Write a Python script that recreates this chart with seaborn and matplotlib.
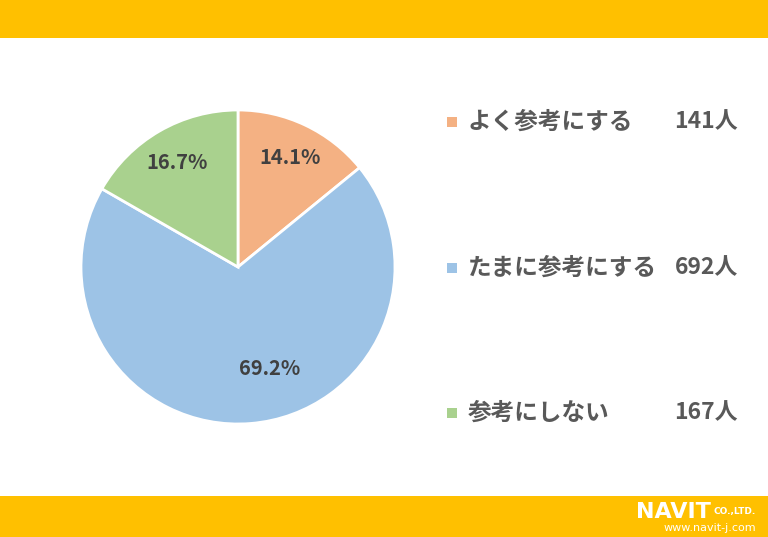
import numpy as np
import matplotlib.pyplot as plt
import seaborn as sns
from matplotlib.patches import Rectangle

# ==========================================
# DATA
# ==========================================

categories = ["よく参考にする", "たまに参考にする", "参考にしない"]
counts = [141, 692, 167]
percent_labels = ["14.1%", "69.2%", "16.7%"]
count_labels = ["141人", "692人", "167人"]

slice_colors = ["#F4B183", "#9DC3E6", "#A9D18E"]
text_gray = "#595959"
label_gray = "#404040"
band_yellow = "#FFC000"

sns.set_theme(style="white")
plt.rcParams["font.family"] = ["Noto Sans CJK JP", "DejaVu Sans"]

W, H = 768, 537
fig = plt.figure(figsize=(W / 100, H / 100), dpi=100)
fig.patch.set_facecolor("white")

# ------------------------------------------
# YELLOW BANDS
# ------------------------------------------

fig.add_artist(Rectangle((0, 1 - 38 / H), 1, 38 / H,
                         transform=fig.transFigure, color=band_yellow, lw=0))
fig.add_artist(Rectangle((0, 0), 1, 41 / H,
                         transform=fig.transFigure, color=band_yellow, lw=0))

# ------------------------------------------
# PIE
# ------------------------------------------

cx, cy, r = 238, 267, 157
ax = fig.add_axes([(cx - r) / W, (H - cy - r) / H, 2 * r / W, 2 * r / H])

wedges, _ = ax.pie(
    counts,
    colors=slice_colors,
    startangle=90,
    counterclock=False,
    radius=1.0,
    wedgeprops=dict(edgecolor="white", linewidth=2),
)
ax.set_xlim(-1, 1)
ax.set_ylim(-1, 1)
ax.set_aspect("auto")
ax.axis("off")

# label placement (nudges like Excel best fit)
label_offsets = [(0.0, 0.0), (0.14, 0.12), (0.0, 0.0)]
for w, txt, off in zip(wedges, percent_labels, label_offsets):
    mid = np.deg2rad((w.theta1 + w.theta2) / 2)
    x = 0.77 * np.cos(mid) + off[0]
    y = 0.77 * np.sin(mid) + off[1]
    ax.text(x, y, txt, ha="center", va="center", fontsize=14.5,
            fontweight="bold", color=label_gray)

# ------------------------------------------
# LEGEND (manual, with counts)
# ------------------------------------------

row_y = [122, 268, 413]
for ypix, name, cnt, col in zip(row_y, categories, count_labels, slice_colors):
    yf = 1 - ypix / H
    fig.add_artist(Rectangle((447 / W, yf - 5 / H), 10 / W, 10 / H,
                             transform=fig.transFigure, color=col, lw=0))
    fig.text(468 / W, yf, name, ha="left", va="center", fontsize=17,
             fontweight="bold", color=text_gray)
    fig.text(738 / W, yf, cnt, ha="right", va="center", fontsize=16.5,
             fontweight="bold", color=text_gray)

# ------------------------------------------
# LOGO
# ------------------------------------------

fig.text(636 / W, 1 - 518 / H, "NAVIT", ha="left", va="baseline",
         fontsize=16, fontweight="bold", color="white",
         family=["DejaVu Sans"])
fig.text(714 / W, 1 - 514 / H, "CO.,LTD.", ha="left", va="baseline",
         fontsize=6.5, fontweight="bold", color="white",
         family=["DejaVu Sans"])
fig.text(664 / W, 1 - 531 / H, "www.navit-j.com", ha="left", va="baseline",
         fontsize=8, color="white", family=["DejaVu Sans"])

fig.savefig("out.png", dpi=100, facecolor="white")
